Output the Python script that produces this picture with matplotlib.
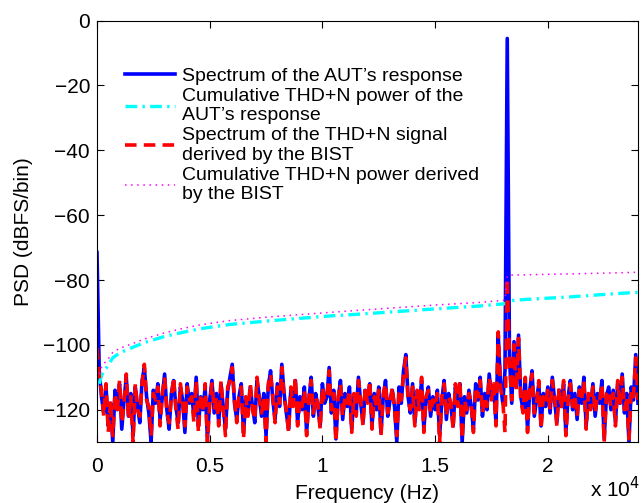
"""
PSD of the AUT response vs. the THD+N signal derived by the BIST,
with cumulative THD+N power curves.
"""

import numpy as np
import matplotlib
matplotlib.use("Agg")
import matplotlib.pyplot as plt

plt.rcParams["font.family"] = ["Liberation Sans", "DejaVu Sans"]

# FFT bin grid (Hz), 100 Hz per bin
freq_hz = np.arange(0, 24100, 100)

# Spectrum of the AUT's response (dBFS/bin), one value per bin
aut_spectrum = [
    -71.5, -108, -116, -121, -113, -125, -118, -130, -114, -120,
    -112, -126, -117, -110, -122, -115, -128, -113, -119, -124,
    -111, -107, -116, -121, -130, -114, -118, -112, -123, -116,
    -109, -120, -126, -115, -111, -119, -124, -113, -117, -127,
    -112, -118, -115, -122, -110, -125, -116, -120, -113, -129,
    -117, -111, -121, -115, -124, -112, -119, -126, -114, -110,
    -106, -118, -123, -116, -112, -127, -117, -121, -113, -119,
    -124, -111, -116, -122, -115, -128, -113, -108, -117, -123,
    -112, -119, -106, -115, -121, -126, -114, -118, -111, -124,
    -116, -120, -113, -127, -117, -110, -122, -115, -119, -125,
    -112, -118, -116, -107, -121, -114, -129, -117, -111, -123,
    -115, -119, -113, -126, -116, -121, -110, -118, -124, -114,
    -117, -112, -125, -115, -120, -113, -127, -116, -111, -122,
    -117, -114, -119, -130, -113, -118, -108, -103, -116, -121,
    -112, -124, -115, -119, -111, -126, -117, -113, -122, -116,
    -120, -114, -128, -117, -111, -123, -115, -119, -125, -113,
    -118, -112, -130, -116, -121, -114, -119, -126, -112, -117,
    -110, -122, -115, -120, -109, -116, -113, -124, -97, -112,
    -118, -108, -5.5, -104, -118, -99, -113, -97, -116, -120,
    -111, -126, -114, -108, -122, -117, -112, -125, -115, -119,
    -113, -121, -110, -117, -124, -114, -119, -112, -127, -116,
    -111, -120, -115, -123, -113, -118, -110, -125, -116, -119,
    -112, -122, -115, -118, -111, -129, -116, -113, -120, -114,
    -124, -112, -118, -109, -121, -115, -130, -113, -117, -103,
    -118,
]

# Spectrum of the THD+N signal derived by the BIST (dBFS/bin)
bist_spectrum = [
    -101, -110, -114, -122, -112, -127, -117, -128, -115, -121,
    -111, -124, -118, -109, -123, -116, -130, -112, -120, -122,
    -112, -106, -117, -119, -128, -115, -117, -113, -125, -115,
    -110, -121, -124, -116, -110, -120, -126, -112, -118, -125,
    -113, -117, -116, -124, -111, -127, -115, -121, -112, -130,
    -118, -112, -120, -116, -125, -111, -120, -128, -113, -111,
    -107, -117, -124, -115, -113, -129, -116, -122, -112, -120,
    -123, -110, -117, -121, -116, -130, -112, -109, -116, -124,
    -113, -118, -107, -116, -120, -127, -113, -119, -110, -125,
    -117, -119, -114, -128, -116, -111, -121, -116, -118, -126,
    -113, -117, -117, -108, -120, -115, -130, -116, -112, -122,
    -116, -118, -114, -127, -115, -122, -111, -117, -125, -113,
    -118, -111, -126, -116, -119, -114, -128, -115, -112, -121,
    -118, -113, -120, -128, -114, -117, -109, -104, -117, -120,
    -113, -125, -114, -120, -110, -127, -116, -114, -121, -117,
    -119, -115, -130, -116, -112, -122, -116, -118, -126, -112,
    -119, -111, -129, -117, -120, -115, -118, -127, -113, -116,
    -111, -121, -116, -119, -110, -117, -112, -125, -96, -113,
    -117, -127, -79.5, -105, -117, -100, -114, -98, -117, -121,
    -110, -127, -113, -109, -121, -118, -111, -126, -116, -118,
    -114, -120, -111, -116, -125, -113, -120, -111, -128, -117,
    -112, -119, -116, -122, -114, -117, -111, -126, -115, -120,
    -113, -121, -116, -117, -112, -130, -115, -114, -119, -115,
    -125, -111, -119, -110, -120, -116, -129, -114, -116, -104,
    -117,
]

# Cumulative THD+N power curves (dBFS), read at selected frequencies
cum_freq_hz = [100, 200, 300, 450, 700, 1000, 1500, 2100, 3000, 3700,
               4600, 5900, 7800, 10300, 11700, 14800, 17000, 18100, 18200,
               18300, 19000, 21000, 23000, 24000]
cum_aut = [-112, -109.5, -108, -106.8, -104, -102.5, -101, -99.3, -97.4,
           -96.3, -95, -93.7, -92.5, -91.1, -90.5, -89, -88, -87.3, -86.9,
           -86.4, -86, -85.2, -84.2, -83.8]
cum_bist = [-109, -107, -105.8, -104.8, -102.3, -101.1, -99.8, -98.2,
            -96.3, -95.1, -93.8, -92.5, -91.3, -90, -89.3, -87.8, -86.9,
            -86.2, -78.8, -78.5, -78.4, -78.1, -77.8, -77.6]

x_ticks = [0, 5000, 10000, 15000, 20000]
x_tick_labels = ["0", "0.5", "1", "1.5", "2"]
y_ticks = [-120, -100, -80, -60, -40, -20, 0]

fig = plt.figure(figsize=(6.41, 5.03), dpi=100)
ax = fig.add_axes([0.1513, 0.121, 0.8440, 0.838])

ax.plot(freq_hz, aut_spectrum, color="#0000ff", linewidth=2.6,
        label="Spectrum of the AUT\u2019s response")
ax.plot(cum_freq_hz, cum_aut, color="#00ffff", linewidth=2.4,
        linestyle=(0, (3.5, 1.6, 0.7, 1.6)),
        label="Cumulative THD+N power of the\nAUT\u2019s response")
ax.plot(freq_hz, bist_spectrum, color="#ff0000", linewidth=2.6,
        linestyle=(0, (3.2, 2.0)),
        label="Spectrum of the THD+N signal\nderived by the BIST")
ax.plot(cum_freq_hz, cum_bist, color="#ff00ff", linewidth=1.1,
        linestyle=(0, (1, 3)),
        label="Cumulative THD+N power derived\nby the BIST")

ax.set_xlim(0, 24000)
ax.set_ylim(-130, 0)
ax.set_xticks(x_ticks)
ax.set_xticklabels(x_tick_labels)
ax.set_yticks(y_ticks)
ax.tick_params(direction="in", top=True, right=True, length=5,
               width=0.8, labelsize=15)
ax.tick_params(axis="x", pad=11)
ax.tick_params(axis="y", pad=5)
for spine in ax.spines.values():
    spine.set_linewidth(0.8)

ax.set_xlabel("Frequency (Hz)", fontsize=15, va="center")
ax.xaxis.set_label_coords(0.5, -0.121)
ax.set_ylabel("PSD (dBFS/bin)", fontsize=15, va="center")
ax.yaxis.set_label_coords(-0.135, 0.5)

fig.text(0.998, 0.004, r"x 10$^{4}$", fontsize=15, ha="right", va="bottom")

ax.legend(loc="upper left", bbox_to_anchor=(0.052, 0.89), frameon=False,
          fontsize=14, borderpad=0, borderaxespad=0, handlelength=2.55,
          handletextpad=0.4, labelspacing=0.15)

fig.savefig("out.png", dpi=100)
